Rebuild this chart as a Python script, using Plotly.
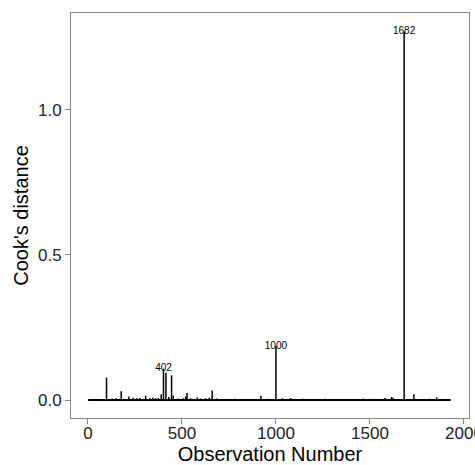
import plotly.graph_objects as go

# Observation range
obs_first = 1
obs_last = 1930

# Visible spikes (observation number, Cook's distance)
spike_obs = [20, 45, 70, 99, 130, 150, 177, 200, 218, 240, 260, 276, 290, 307, 330, 345, 360, 375,
             390, 402, 415, 430, 445, 454, 480, 505, 520, 527, 546, 582, 600, 626, 645, 661, 686,
             730, 782, 850, 920, 960, 1000, 1035, 1078, 1145, 1200, 1261, 1310, 1367, 1420, 1465,
             1520, 1580, 1615, 1623, 1682, 1734, 1780, 1819, 1855, 1890]
spike_cook = [0.003, 0.004, 0.003, 0.077, 0.005, 0.006, 0.030, 0.004, 0.012, 0.008, 0.006, 0.007, 0.004, 0.015,
              0.007, 0.008, 0.006, 0.007, 0.020, 0.108, 0.094, 0.010, 0.085, 0.015, 0.005, 0.006, 0.012,
              0.024, 0.006, 0.009, 0.005, 0.006, 0.008, 0.033, 0.005, 0.003, 0.004, 0.003, 0.015, 0.004,
              0.186, 0.006, 0.007, 0.004, 0.003, 0.004, 0.003, 0.003, 0.003, 0.005, 0.004, 0.007,
              0.010, 0.008, 1.270, 0.020, 0.004, 0.004, 0.009, 0.003]

# Labelled observations
label_obs = [402, 1000, 1682]

x_ticks = [0, 500, 1000, 1500, 2000]
y_ticks = [0.0, 0.5, 1.0]

xs, ys = [], []
for o, v in zip(spike_obs, spike_cook):
    xs += [o, o, None]
    ys += [0, v, None]

FONT = "Liberation Sans, Arial"

fig = go.Figure()
fig.add_trace(go.Scatter(x=[obs_first, obs_last], y=[0, 0], mode="lines",
                         line=dict(color="black", width=2), hoverinfo="skip"))
fig.add_trace(go.Scatter(x=xs, y=ys, mode="lines", line=dict(color="black", width=1.5),
                         hoverinfo="skip"))

lab_y = [spike_cook[spike_obs.index(o)] for o in label_obs]
fig.add_trace(go.Scatter(x=label_obs, y=lab_y, mode="text", text=[str(o) for o in label_obs],
                         textposition="middle center",
                         textfont=dict(family=FONT, size=10, color="black"),
                         hoverinfo="skip"))

axis_common = dict(showline=True, linecolor="#8a8a8a", linewidth=1, mirror=True,
                   ticks="outside", ticklen=5, tickcolor="#8a8a8a", tickwidth=1,
                   showgrid=False, zeroline=False,
                   tickfont=dict(family=FONT, size=17, color="#222222"),
                   automargin=False)

fig.update_layout(
    width=475, height=465,
    margin=dict(l=71, r=6, t=13, b=47),
    paper_bgcolor="white", plot_bgcolor="white",
    showlegend=False,
    xaxis=dict(range=[-90, 2027], tickvals=x_ticks, ticktext=[str(t) for t in x_ticks],
               ticklabeloverflow="allow", ticklabelstandoff=-5,
               title=dict(text="Observation Number", standoff=8,
                          font=dict(family=FONT, size=20, color="black")),
               **axis_common),
    yaxis=dict(range=[-0.062, 1.334], tickvals=y_ticks, ticktext=[f"{t:.1f}" for t in y_ticks],
               title=dict(text="Cook's distance", standoff=3,
                          font=dict(family=FONT, size=20, color="black")),
               **axis_common),
)

fig.write_html("out.html")
